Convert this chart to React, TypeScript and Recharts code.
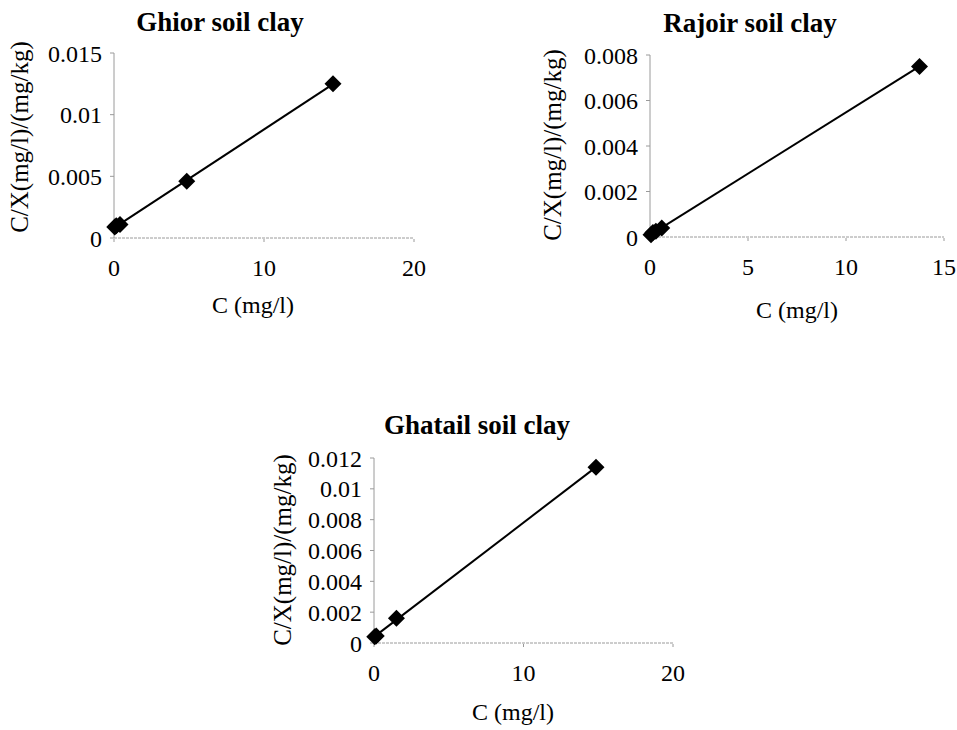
import { ScatterChart, Scatter, XAxis, YAxis } from 'recharts'

// Ghior soil clay: C (mg/l) vs C/X
const ghiorC = [0.05, 0.15, 0.4, 4.85, 14.6]
const ghiorCX = [0.0009, 0.001, 0.0011, 0.0046, 0.0125]
const ghiorXTicks = [0, 10, 20]
const ghiorYTicks = [0, 0.005, 0.01, 0.015]

// Rajoir soil clay
const rajoirC = [0.05, 0.15, 0.3, 0.6, 13.75]
const rajoirCX = [0.0001, 0.0002, 0.00025, 0.0004, 0.0075]
const rajoirXTicks = [0, 5, 10, 15]
const rajoirYTicks = [0, 0.002, 0.004, 0.006, 0.008]

// Ghatail soil clay
const ghatailC = [0.05, 0.15, 1.5, 14.85]
const ghatailCX = [0.0004, 0.00045, 0.0016, 0.0114]
const ghatailXTicks = [0, 10, 20]
const ghatailYTicks = [0, 0.002, 0.004, 0.006, 0.008, 0.01, 0.012]

const FONT = '"Liberation Serif", "DejaVu Serif", serif'
const AXIS_GREY = '#9a9a9a'
const Y_AXIS_W = 90
const X_AXIS_H = 40

const toRows = (xs: number[], ys: number[]) => xs.map((c, i) => ({ c, cx: ys[i] }))

// excel style filled diamond
const Diamond = (props: any) => {
  const { cx, cy } = props
  const r = 8.5
  return <polygon points={`${cx},${cy - r} ${cx + r},${cy} ${cx},${cy + r} ${cx - r},${cy}`} fill="#000" />
}

interface PanelProps {
  title: string
  xs: number[]
  ys: number[]
  xTicks: number[]
  yTicks: number[]
  box: { left: number; top: number; width: number; height: number }
  plot: { x0: number; x1: number; y0: number; y1: number }
  titlePos: [number, number]
  yLabelPos: [number, number]
  xLabelPos: [number, number]
}

function Panel({ title, xs, ys, xTicks, yTicks, box, plot, titlePos, yLabelPos, xLabelPos }: PanelProps) {
  const margin = {
    top: plot.y0 - box.top,
    left: plot.x0 - box.left - Y_AXIS_W,
    right: box.left + box.width - plot.x1,
    bottom: box.top + box.height - plot.y1 - X_AXIS_H,
  }
  const tickStyle = { fill: '#000', fontSize: 24, fontFamily: FONT }
  return (
    <>
      <div style={{ position: 'absolute', left: box.left, top: box.top, fontFamily: FONT }}>
        <ScatterChart width={box.width} height={box.height} margin={margin} style={{ fontFamily: FONT }}>
          <XAxis
            type="number"
            dataKey="c"
            domain={[xTicks[0], xTicks[xTicks.length - 1]]}
            ticks={xTicks}
            height={X_AXIS_H}
            stroke={AXIS_GREY}
            strokeDasharray="3 1"
            tickSize={4}
            tickMargin={17}
            tick={tickStyle}
            interval={0}
          />
          <YAxis
            type="number"
            dataKey="cx"
            domain={[yTicks[0], yTicks[yTicks.length - 1]]}
            ticks={yTicks}
            width={Y_AXIS_W}
            stroke={AXIS_GREY}
            tickSize={4}
            tickMargin={8}
            tick={tickStyle}
            interval={0}
          />
          <Scatter
            data={toRows(xs, ys)}
            shape={Diamond}
            line={{ stroke: '#000', strokeWidth: 2 }}
            lineType="fitting"
            isAnimationActive={false}
          />
        </ScatterChart>
      </div>
      <div style={{ position: 'absolute', left: titlePos[0], top: titlePos[1], transform: 'translate(-50%, -50%)', fontFamily: FONT, fontWeight: 'bold', fontSize: 27, whiteSpace: 'nowrap' }}>
        {title}
      </div>
      <div style={{ position: 'absolute', left: yLabelPos[0], top: yLabelPos[1], transform: 'translate(-50%, -50%) rotate(-90deg)', fontFamily: FONT, fontSize: 25, whiteSpace: 'nowrap' }}>
        C/X(mg/l)/(mg/kg)
      </div>
      <div style={{ position: 'absolute', left: xLabelPos[0], top: xLabelPos[1], transform: 'translate(-50%, -50%)', fontFamily: FONT, fontSize: 24, whiteSpace: 'nowrap' }}>
        C (mg/l)
      </div>
    </>
  )
}

export default function App() {
  return (
    <div style={{ position: 'absolute', left: 0, top: 0, width: 957, height: 730, background: '#fff', overflow: 'hidden', fontFamily: FONT }}>
      <Panel
        title="Ghior soil clay"
        xs={ghiorC}
        ys={ghiorCX}
        xTicks={ghiorXTicks}
        yTicks={ghiorYTicks}
        box={{ left: 0, top: 0, width: 460, height: 330 }}
        plot={{ x0: 114, x1: 414, y0: 53, y1: 238 }}
        titlePos={[220, 22]}
        yLabelPos={[20, 137]}
        xLabelPos={[253, 305]}
      />
      <Panel
        title="Rajoir soil clay"
        xs={rajoirC}
        ys={rajoirCX}
        xTicks={rajoirXTicks}
        yTicks={rajoirYTicks}
        box={{ left: 500, top: 0, width: 457, height: 330 }}
        plot={{ x0: 650, x1: 944, y0: 55, y1: 237 }}
        titlePos={[750, 23]}
        yLabelPos={[553, 145]}
        xLabelPos={[797, 310]}
      />
      <Panel
        title="Ghatail soil clay"
        xs={ghatailC}
        ys={ghatailCX}
        xTicks={ghatailXTicks}
        yTicks={ghatailYTicks}
        box={{ left: 250, top: 400, width: 460, height: 330 }}
        plot={{ x0: 374, x1: 673, y0: 458, y1: 643 }}
        titlePos={[477, 425]}
        yLabelPos={[283, 550]}
        xLabelPos={[513, 712]}
      />
    </div>
  )
}
